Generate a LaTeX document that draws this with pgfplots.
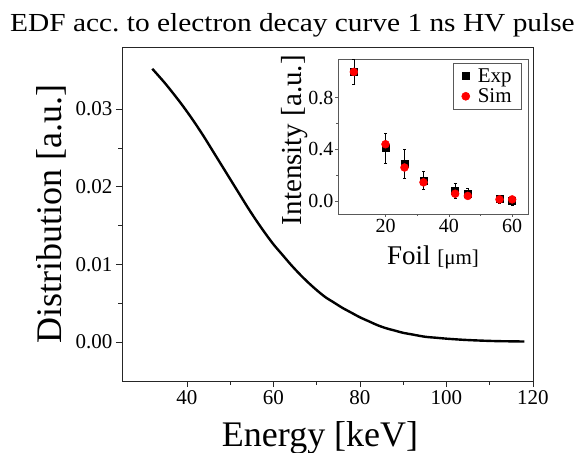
\documentclass[border=0pt]{standalone}
\usepackage{fontspec}
\setmainfont{Liberation Serif}
\usepackage{graphicx}
\usepackage{pgfplots}
\pgfplotsset{compat=1.18}
\frenchspacing

\begin{document}
\begin{tikzpicture}
% main curve
\begin{axis}[
    name=main,
    scale only axis,
    width=411pt, height=334pt,
    xmin=25, xmax=120,
    ymin=-0.005, ymax=0.038,
    xtick={40,60,80,100,120},
    ytick={0,0.01,0.02,0.03},
    minor x tick num=1,
    minor y tick num=1,
    scaled y ticks=false,
    tick align=outside,
    xtick pos=bottom, ytick pos=left,
    major tick length=6pt, minor tick length=3.5pt,
    axis line style={black!85, line width=0.8pt},
    every tick/.style={black!85, line width=0.7pt},
    tick label style={font=\fontsize{21}{21}\selectfont},
    /pgf/number format/assume math mode=true,
    yticklabel style={/pgf/number format/.cd, fixed, fixed zerofill, precision=2},
    xlabel={Energy [keV]},
    ylabel={Distribution [a.u.]},
    label style={font=\fontsize{36}{36}\selectfont},
    xlabel style={at={(axis description cs:0.482,-0.195)}, anchor=base},
    ylabel style={at={(axis description cs:-0.146,0.5)}, anchor=base},
]
\addplot[black, line width=2.4pt, smooth, tension=0.5] coordinates {
    (32,0.0352)(35,0.0333)(38,0.0312)(40,0.0297)(42,0.0281)(44,0.0264)
    (46,0.0246)(48,0.0228)(50,0.0210)(52,0.0192)(54,0.0174)(56,0.0157)
    (58,0.0141)(60,0.0126)(62,0.0113)(64,0.0100)(66,0.0088)(68,0.0077)
    (70,0.0067)(72,0.0058)(74,0.0051)(76,0.0044)(78,0.0038)(80,0.0032)
    (82,0.0027)(84,0.0022)(86,0.0018)(88,0.0015)(90,0.0012)(92,0.0010)
    (95,0.0007)(98,0.00055)(100,0.00045)(104,0.0003)(108,0.0002)
    (112,0.00013)(116,0.0001)(118,0.00008)
};
\end{axis}

% inset
\begin{axis}[
    at={(216pt,167pt)}, anchor=south west,
    scale only axis,
    width=190pt, height=155pt,
    xmin=5, xmax=65,
    ymin=-0.1, ymax=1.1,
    xtick={20,40,60},
    ytick={0,0.4,0.8},
    minor x tick num=1,
    minor y tick num=1,
    tick align=outside,
    xtick pos=bottom, ytick pos=left,
    major tick length=3pt, minor tick length=2pt,
    axis line style={black!65, line width=0.7pt},
    every tick/.style={black!65, line width=0.6pt},
    tick label style={font=\fontsize{20}{20}\selectfont, inner sep=1.5pt},
    /pgf/number format/assume math mode=true,
    yticklabel style={/pgf/number format/.cd, fixed, fixed zerofill, precision=1},
    xlabel={{\fontsize{27}{27}\selectfont Foil\ }{\fontsize{21}{21}\selectfont [μm]}},
    ylabel={Intensity [a.u.]},
    ylabel style={font=\fontsize{29}{29}\selectfont, at={(axis description cs:-0.19,0.477)}, anchor=base},
    xlabel style={at={(axis description cs:0.5,-0.323)}, anchor=base},
    legend style={at={(axis description cs:0.968,0.974)}, anchor=north east,
        draw=black!65, line width=0.6pt, font=\fontsize{21}{21}\selectfont,
        inner xsep=8pt, inner ysep=3pt, column sep=6pt, row sep=1pt},
    legend cell align=left,
]
\addplot[only marks, mark=square*, mark size=3.5pt, black,
    error bars/.cd, y dir=both, y explicit,
    error bar style={black, line width=0.5pt}, error mark options={rotate=90, mark size=1.5pt}]
    coordinates {
    (10,1.00) +- (0,0.095)
    (20,0.41) +- (0,0.115)
    (26,0.29) +- (0,0.115)
    (32,0.16) +- (0,0.07)
    (42,0.08) +- (0,0.055)
    (46,0.06) +- (0,0.04)
    (56,0.015) +- (0,0.03)
    (60,0.003) +- (0,0.033)
};
\addplot[only marks, mark=*, mark size=4pt, red, mark options={fill=red, draw=red}]
    coordinates {
    (10,1.00)(20,0.44)(26,0.26)(32,0.145)(42,0.057)(46,0.04)(56,0.013)(60,0.013)
};
\legend{Exp, Sim}
\end{axis}

\node[anchor=base west, inner sep=0pt] at (-112pt,349pt)
    {\scalebox{1.13}[1]{\fontsize{26}{26}\selectfont EDF acc. to electron decay curve 1 ns HV pulse}};

\pgfresetboundingbox
\path[use as bounding box] (-122pt,-72pt) rectangle (457pt,381pt);
\end{tikzpicture}
\end{document}
